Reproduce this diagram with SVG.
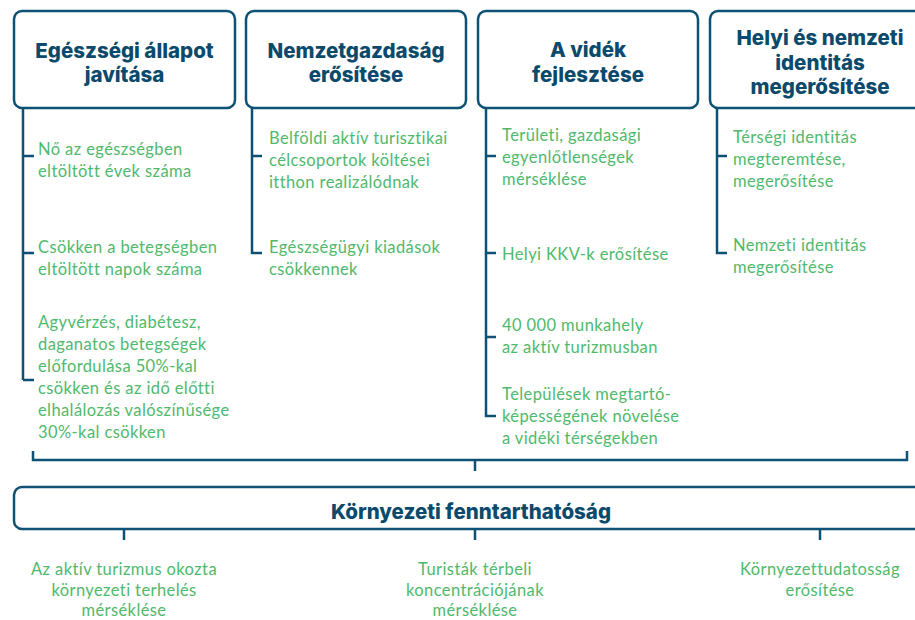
<svg xmlns="http://www.w3.org/2000/svg" width="915" height="620" viewBox="0 0 915 620">
<style>
.box{fill:#ffffff;stroke:#0d5174;stroke-width:2.5}
.ln{fill:none;stroke:#0d5174;stroke-width:2.5;stroke-linejoin:miter}
.ttl{font-family:Inter,"Noto Sans","Liberation Sans",sans-serif;font-weight:800;font-size:20.5px;fill:#0b4a6b;text-anchor:middle}
.it{font-family:Lato,"Noto Sans","Liberation Sans",sans-serif;font-size:16.5px;letter-spacing:0.4px;fill:#4fb96c}
.itc{font-family:Lato,"Noto Sans","Liberation Sans",sans-serif;font-size:16.5px;letter-spacing:0.4px;fill:#4fb96c;text-anchor:middle}
</style>
<rect width="915" height="620" fill="#ffffff"/>
<g id="connectors">
<path class="ln" d="M23 108 V380 M23 156 H34 M23 253 H34 M23 380 H34"/>
<path class="ln" d="M252 108 V253 H262 M252 156 H262"/>
<path class="ln" d="M486 108 V416 H496 M486 156 H496 M486 253 H496 M486 337 H496"/>
<path class="ln" d="M717 108 V253 H727 M717 156 H727"/>
<path class="ln" d="M33 451 V460 H907 V451 M475 460 V471"/>
<path class="ln" d="M124 529 V540 M475 529 V540 M820 529 V540"/>
</g>
<g id="node-egeszseg">
<rect class="box" x="14" y="11" width="221" height="97" rx="8"/>
<text class="ttl" x="124.5" y="58">Egészségi állapot</text>
<text class="ttl" x="124.5" y="82">javítása</text>
</g>
<g id="node-nemzetgazdasag">
<rect class="box" x="246" y="11" width="220" height="97" rx="8"/>
<text class="ttl" x="356" y="58">Nemzetgazdaság</text>
<text class="ttl" x="356" y="82">erősítése</text>
</g>
<g id="node-videk">
<rect class="box" x="478" y="11" width="220" height="97" rx="8"/>
<text class="ttl" x="588" y="57">A vidék</text>
<text class="ttl" x="588" y="82">fejlesztése</text>
</g>
<g id="node-identitas">
<rect class="box" x="710" y="11" width="225" height="97" rx="8"/>
<text class="ttl" x="820" y="45">Helyi és nemzeti</text>
<text class="ttl" x="820" y="70">identitás</text>
<text class="ttl" x="820" y="94">megerősítése</text>
</g>
<g id="items-egeszseg">
<text class="it" x="38" y="155">Nő az egészségben</text>
<text class="it" x="38" y="177">eltöltött évek száma</text>
<text class="it" x="38" y="253">Csökken a betegségben</text>
<text class="it" x="38" y="275">eltöltött napok száma</text>
<text class="it" x="38" y="328">Agyvérzés, diabétesz,</text>
<text class="it" x="38" y="350">daganatos betegségek</text>
<text class="it" x="38" y="372">előfordulása 50%-kal</text>
<text class="it" x="38" y="394">csökken és az idő előtti</text>
<text class="it" x="38" y="416">elhalálozás valószínűsége</text>
<text class="it" x="38" y="438">30%-kal csökken</text>
</g>
<g id="items-nemzetgazdasag">
<text class="it" x="269" y="144">Belföldi aktív turisztikai</text>
<text class="it" x="269" y="166">célcsoportok költései</text>
<text class="it" x="269" y="188">itthon realizálódnak</text>
<text class="it" x="269" y="253">Egészségügyi kiadások</text>
<text class="it" x="269" y="275">csökkennek</text>
</g>
<g id="items-videk">
<text class="it" x="502" y="141">Területi, gazdasági</text>
<text class="it" x="502" y="163">egyenlőtlenségek</text>
<text class="it" x="502" y="185">mérséklése</text>
<text class="it" x="502" y="260">Helyi KKV-k erősítése</text>
<text class="it" x="502" y="331">40 000 munkahely</text>
<text class="it" x="502" y="353">az aktív turizmusban</text>
<text class="it" x="502" y="400">Települések megtartó-</text>
<text class="it" x="502" y="422">képességének növelése</text>
<text class="it" x="502" y="444">a vidéki térségekben</text>
</g>
<g id="items-identitas">
<text class="it" x="733" y="143">Térségi identitás</text>
<text class="it" x="733" y="165">megteremtése,</text>
<text class="it" x="733" y="187">megerősítése</text>
<text class="it" x="733" y="251">Nemzeti identitás</text>
<text class="it" x="733" y="273">megerősítése</text>
</g>
<g id="node-kornyezeti">
<rect class="box" x="14" y="487" width="921" height="42" rx="8"/>
<text class="ttl" x="471" y="519">Környezeti fenntarthatóság</text>
</g>
<g id="items-kornyezeti">
<text class="itc" x="124" y="575">Az aktív turizmus okozta</text>
<text class="itc" x="124" y="596">környezeti terhelés</text>
<text class="itc" x="124" y="616">mérséklése</text>
<text class="itc" x="475" y="575">Turisták térbeli</text>
<text class="itc" x="475" y="596">koncentrációjának</text>
<text class="itc" x="475" y="616">mérséklése</text>
<text class="itc" x="820" y="575">Környezettudatosság</text>
<text class="itc" x="820" y="596">erősítése</text>
</g>
</svg>
